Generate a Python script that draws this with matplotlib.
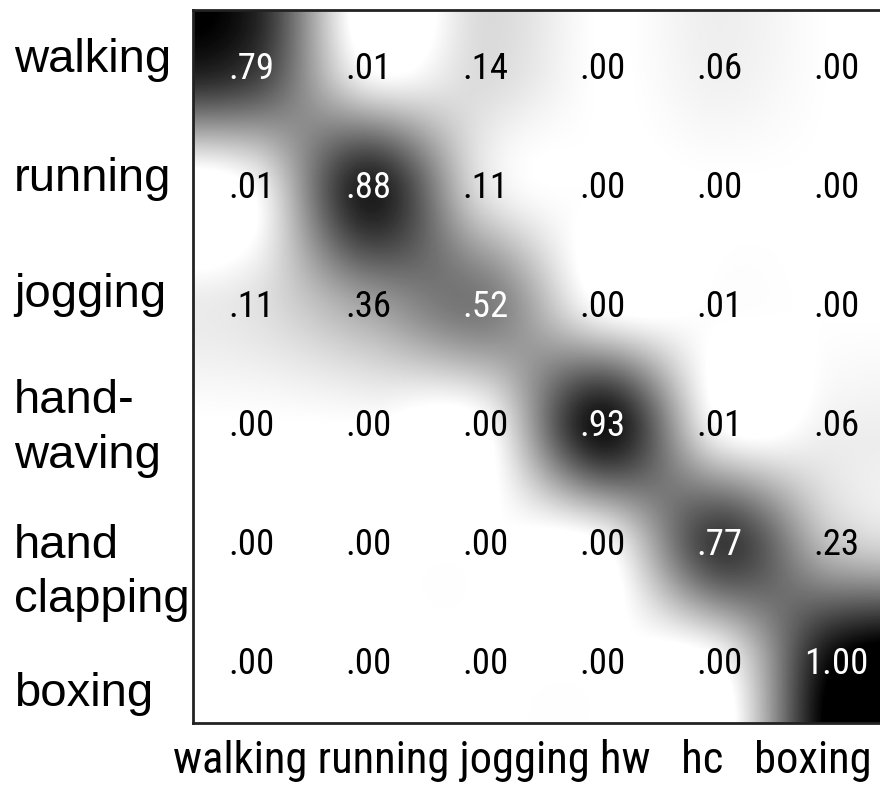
import numpy as np
import matplotlib
matplotlib.use("Agg")
import matplotlib.pyplot as plt
import matplotlib.transforms as mtransforms

# Confusion matrix for the six action classes (rows: true, columns: predicted)
row_labels = ["walking", "running", "jogging", "hand-\nwaving", "hand\nclapping", "boxing"]
col_labels = ["walking", "running", "jogging", "hw", "hc", "boxing"]
conf = np.array([
    [0.79, 0.01, 0.14, 0.00, 0.06, 0.00],
    [0.01, 0.88, 0.11, 0.00, 0.00, 0.00],
    [0.11, 0.36, 0.52, 0.00, 0.01, 0.00],
    [0.00, 0.00, 0.00, 0.93, 0.01, 0.06],
    [0.00, 0.00, 0.00, 0.00, 0.77, 0.23],
    [0.00, 0.00, 0.00, 0.00, 0.00, 1.00],
])

W, H = 880, 788
fig = plt.figure(figsize=(W / 100, H / 100), dpi=100)
fig.patch.set_facecolor("white")
ax = fig.add_axes([193 / W, 65 / H, 702 / W, 713 / H])

ax.imshow(conf, cmap="gray_r", vmin=0, vmax=1, interpolation="catrom",
          aspect="auto")
ax.set_xticks([])
ax.set_yticks([])
for sp in ax.spines.values():
    sp.set_linewidth(2)
    sp.set_color("#222222")

narrow = ["Roboto Condensed", "Archivo Narrow", "DejaVu Sans"]
regular = ["Liberation Sans", "DejaVu Sans"]

# cell values
n = conf.shape[0]
for i in range(n):
    for j in range(n):
        v = conf[i, j]
        s = f"{v:.2f}"
        if s.startswith("0"):
            s = s[1:]
        ax.text(j, i, s, ha="center", va="center", fontsize=26.5,
                family=narrow, color="white" if v > 0.45 else "black")

# row labels, left aligned in the margin (baseline of the last line)
row_shift = [0.02, 0.02, 0.0, 0.35, 0.57, 0.36]
trans = mtransforms.blended_transform_factory(fig.transFigure, ax.transData)
for i, (lab, dy) in enumerate(zip(row_labels, row_shift)):
    fig.text(14 / W, i + dy, lab, transform=trans, ha="left", va="baseline",
             fontsize=34, family=regular, linespacing=1.31, color="black")

# column labels written as one line under the matrix
gaps = [" ", " ", " ", "   ", "   "]
line = col_labels[0]
for g, lab in zip(gaps, col_labels[1:]):
    line += g + lab
fig.text(522 / W, (H - 773) / H, line, ha="center", va="baseline",
         fontsize=32, family=narrow, color="black")

fig.savefig("out.png", dpi=100, facecolor="white")
